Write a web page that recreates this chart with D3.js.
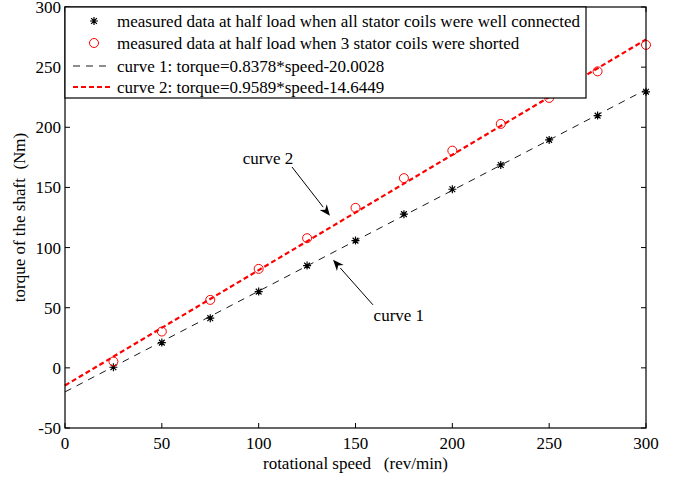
<!DOCTYPE html>
<html>
<head>
<meta charset="utf-8">
<script src="https://cdn.jsdelivr.net/npm/d3@7"></script>
<style>
  html, body { margin: 0; padding: 0; background: #fff; }
  svg text { font-family: "Liberation Serif", "Times New Roman", serif; fill: #000; white-space: pre; }
</style>
</head>
<body>
<svg id="chart" width="678" height="477"></svg>
<script>
// ---- data ----
const speeds = [25, 50, 75, 100, 125, 150, 175, 200, 225, 250, 275, 300];
const torqueWell = [0.5, 21, 41.3, 63.4, 85, 105.8, 127.8, 148.5, 168.7, 189.5, 209.7, 229.5];
const torqueShorted = [5.3, 30.2, 56.5, 82.3, 107.8, 133, 157.7, 180.6, 202.8, 224.4, 246.5, 268.5];
const fit1 = { slope: 0.8378, intercept: -20.0028 };
const fit2 = { slope: 0.9589, intercept: -14.6449 };
const xTicks = [0, 50, 100, 150, 200, 250, 300];
const yTicks = [-50, 0, 50, 100, 150, 200, 250, 300];
const legendLabels = [
  "measured data at half load when all stator coils were well connected",
  "measured data at half load when 3 stator coils were shorted",
  "curve 1: torque=0.8378*speed-20.0028",
  "curve 2: torque=0.9589*speed-14.6449"
];
const xLabel = "rotational speed   (rev/min)";
const yLabel = "torque of the shaft  (Nm)";
const annotations = [
  { text: "curve 2", tx: 104.8, ty: 174.6, x0: 117.2, y0: 167, x1: 136.8, y1: 126.4 },
  { text: "curve 1", tx: 172.4, ty: 44, x0: 159, y0: 52.4, x1: 138.4, y1: 89.8 }
];

// ---- layout ----
const L = 65, R = 646, T = 7, B = 428;
const FS = 17;
const svg = d3.select("#chart");
const x = d3.scaleLinear().domain([0, 300]).range([L, R]);
const y = d3.scaleLinear().domain([-50, 300]).range([B, T]);

// fitted lines
const line = d3.line().x(d => x(d[0])).y(d => y(d[1]));
const fitPts = f => [[0, f.intercept], [300, f.slope * 300 + f.intercept]];
svg.append("path").attr("d", line(fitPts(fit1)))
  .attr("fill", "none").attr("stroke", "#000").attr("stroke-width", 0.9)
  .attr("stroke-dasharray", "7,6");
svg.append("path").attr("d", line(fitPts(fit2)))
  .attr("fill", "none").attr("stroke", "#ff0000").attr("stroke-width", 2.2)
  .attr("stroke-dasharray", "5,3");

// markers
function star(g, cx, cy, s) {
  const p = d3.path();
  p.moveTo(cx - s, cy); p.lineTo(cx + s, cy);
  p.moveTo(cx, cy - s); p.lineTo(cx, cy + s);
  const d = s * 0.72;
  p.moveTo(cx - d, cy - d); p.lineTo(cx + d, cy + d);
  p.moveTo(cx - d, cy + d); p.lineTo(cx + d, cy - d);
  g.append("path").attr("d", p.toString()).attr("stroke", "#000").attr("stroke-width", 1.2).attr("fill", "none");
}
const gStars = svg.append("g");
speeds.forEach((s, i) => star(gStars, x(s), y(torqueWell[i]), 4));
svg.append("g").selectAll("circle").data(speeds).join("circle")
  .attr("cx", d => x(d)).attr("cy", (d, i) => y(torqueShorted[i]))
  .attr("r", 4.5).attr("fill", "none").attr("stroke", "#ff0000").attr("stroke-width", 1);

// annotations
annotations.forEach(a => {
  const X0 = x(a.x0), Y0 = y(a.y0), X1 = x(a.x1), Y1 = y(a.y1);
  const ang = Math.atan2(Y1 - Y0, X1 - X0);
  const len = 11, w = 4.5;
  const bx = X1 - len * Math.cos(ang), by = Y1 - len * Math.sin(ang);
  svg.append("line").attr("x1", X0).attr("y1", Y0).attr("x2", bx).attr("y2", by)
    .attr("stroke", "#000").attr("stroke-width", 1);
  const nx = -Math.sin(ang), ny = Math.cos(ang);
  const ix = X1 - len * 0.7 * Math.cos(ang), iy = Y1 - len * 0.7 * Math.sin(ang);
  svg.append("path")
    .attr("d", `M${X1},${Y1}L${bx + nx * w},${by + ny * w}L${ix},${iy}L${bx - nx * w},${by - ny * w}Z`)
    .attr("fill", "#000");
  svg.append("text").attr("x", x(a.tx)).attr("y", y(a.ty)).attr("dy", "0.35em")
    .attr("text-anchor", "middle").attr("font-size", FS).text(a.text);
});

// axes box with inward ticks
const tickLen = 5;
const gAx = svg.append("g");
gAx.append("rect").attr("x", L).attr("y", T).attr("width", R - L).attr("height", B - T)
  .attr("fill", "none").attr("stroke", "#000").attr("stroke-width", 1.2);
xTicks.forEach(v => {
  gAx.append("line").attr("x1", x(v)).attr("x2", x(v)).attr("y1", B).attr("y2", B - tickLen).attr("stroke", "#000");
  gAx.append("line").attr("x1", x(v)).attr("x2", x(v)).attr("y1", T).attr("y2", T + tickLen).attr("stroke", "#000");
  gAx.append("text").attr("x", x(v)).attr("y", B + 15).attr("dy", "0.35em")
    .attr("text-anchor", "middle").attr("font-size", FS).text(v);
});
yTicks.forEach(v => {
  gAx.append("line").attr("x1", L).attr("x2", L + tickLen).attr("y1", y(v)).attr("y2", y(v)).attr("stroke", "#000");
  gAx.append("line").attr("x1", R).attr("x2", R - tickLen).attr("y1", y(v)).attr("y2", y(v)).attr("stroke", "#000");
  gAx.append("text").attr("x", L - 4).attr("y", y(v)).attr("dy", "0.35em")
    .attr("text-anchor", "end").attr("font-size", FS).text(v);
});
svg.append("text").attr("x", (L + R) / 2).attr("y", 463).attr("dy", "0.35em")
  .attr("text-anchor", "middle").attr("font-size", FS).text(xLabel);
svg.append("text").attr("transform", `translate(19,${(T + B) / 2}) rotate(-90)`)
  .attr("dy", "0.35em").attr("text-anchor", "middle").attr("font-size", FS).text(yLabel);

// legend
const lg = svg.append("g");
lg.append("rect").attr("x", L).attr("y", T).attr("width", 586 - L).attr("height", 98 - T)
  .attr("fill", "#fff").attr("stroke", "#000").attr("stroke-width", 1.2);
const rowY = [21, 43, 66, 87];
star(lg, 94, rowY[0], 4);
lg.append("circle").attr("cx", 94).attr("cy", rowY[1]).attr("r", 4.5)
  .attr("fill", "none").attr("stroke", "#ff0000");
lg.append("line").attr("x1", 73).attr("x2", 112).attr("y1", rowY[2]).attr("y2", rowY[2])
  .attr("stroke", "#000").attr("stroke-width", 0.9).attr("stroke-dasharray", "7,6");
lg.append("line").attr("x1", 73).attr("x2", 112).attr("y1", rowY[3]).attr("y2", rowY[3])
  .attr("stroke", "#ff0000").attr("stroke-width", 2.2).attr("stroke-dasharray", "5,3");
legendLabels.forEach((t, i) => {
  lg.append("text").attr("x", 117).attr("y", rowY[i]).attr("dy", "0.35em")
    .attr("font-size", FS).text(t);
});
</script>
</body>
</html>
